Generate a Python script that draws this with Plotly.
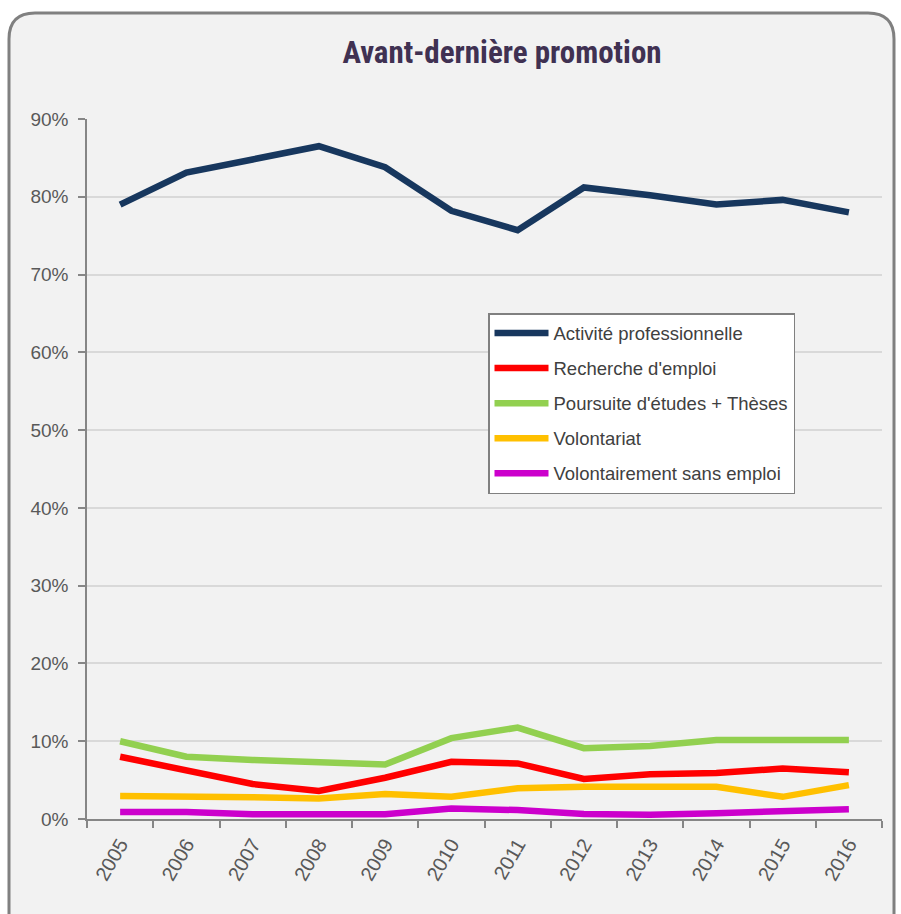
import plotly.graph_objects as go

# Données (en fraction)
annees = ["2005", "2006", "2007", "2008", "2009", "2010",
          "2011", "2012", "2013", "2014", "2015", "2016"]

activite_pro = [0.790, 0.831, 0.848, 0.865, 0.838, 0.782,
                0.757, 0.812, 0.802, 0.790, 0.796, 0.780]
recherche_emploi = [0.080, 0.062, 0.045, 0.036, 0.053, 0.0735,
                    0.0715, 0.0515, 0.0575, 0.059, 0.065, 0.060]
poursuite_etudes = [0.100, 0.080, 0.076, 0.072, 0.070, 0.104,
                    0.1175, 0.091, 0.094, 0.1015, 0.1015, 0.1015]
volontariat = [0.0295, 0.0295, 0.028, 0.0265, 0.032, 0.0285,
               0.0395, 0.0415, 0.0415, 0.0415, 0.0285, 0.0435]
sans_emploi = [0.009, 0.009, 0.006, 0.0055, 0.006, 0.0135,
               0.0115, 0.0065, 0.0055, 0.0075, 0.010, 0.0125]

series = [
    ("Activité professionnelle", activite_pro, "#17375E"),
    ("Recherche d'emploi", recherche_emploi, "#FF0000"),
    ("Poursuite d'études + Thèses", poursuite_etudes, "#92D050"),
    ("Volontariat", volontariat, "#FFC000"),
    ("Volontairement sans emploi", sans_emploi, "#CC00CC"),
]

fig = go.Figure()

for i, (nom, valeurs, couleur) in enumerate(series):
    fig.add_trace(go.Scatter(
        x=annees, y=valeurs, mode="lines", name=nom,
        legendgroup=f"g{i}",
        line=dict(color=couleur, width=6.5),
    ))

# cadre arrondi autour du graphique (coordonnées "paper")
W, H = 901, 914
ml, mr, mt, mb = 87, 19, 119, 95
pw, ph = W - ml - mr, H - mt - mb


def px(x):
    return (x - ml) / pw


def py(y):
    return (H - mb - y) / ph


r = 26
x0, x1, y0, y1 = 9, 894, 13, 930
chemin = (
    f"M {px(x0)},{py(y1)} L {px(x0)},{py(y0 + r)} "
    f"Q {px(x0)},{py(y0)} {px(x0 + r)},{py(y0)} "
    f"L {px(x1 - r)},{py(y0)} "
    f"Q {px(x1)},{py(y0)} {px(x1)},{py(y0 + r)} "
    f"L {px(x1)},{py(y1)} Z"
)
fig.add_shape(type="path", path=chemin, xref="paper", yref="paper",
              fillcolor="#F2F2F2", line=dict(color="#808080", width=3),
              layer="below")

fig.update_layout(
    width=W, height=H,
    margin=dict(l=ml, r=mr, t=mt, b=mb),
    paper_bgcolor="white",
    plot_bgcolor="rgba(0,0,0,0)",
    font=dict(family="Liberation Sans, Arial, sans-serif", size=18, color="#595959"),
    title=dict(
        text="<b>Avant-dernière promotion</b>",
        x=px(502), xanchor="center", xref="paper",
        y=1 - 52 / H, yanchor="middle",
        font=dict(family="Liberation Sans Narrow, Arial Narrow, Roboto Condensed, Liberation Sans",
                  size=31, color="#403152"),
    ),
    showlegend=True,
    legend=dict(
        x=px(488), y=py(313), xanchor="left", yanchor="top",
        bgcolor="white", bordercolor="#808080", borderwidth=1.5,
        font=dict(size=18.5, color="#404040"),
        traceorder="grouped", tracegroupgap=8,
        itemwidth=54,
    ),
)

fig.update_xaxes(
    type="category", tickson="boundaries", range=[-0.5, 11.5],
    ticks="outside", ticklen=7, tickcolor="#868686", tickwidth=1.5,
    showline=True, linecolor="#868686", linewidth=1.5,
    showgrid=False, tickangle=-60, ticklabelstandoff=4,
    tickfont=dict(size=20, color="#595959"),
)
fig.update_yaxes(
    range=[0, 0.9], dtick=0.1, tickformat=".0%",
    ticks="outside", ticklen=7, tickcolor="#868686", tickwidth=1.5,
    showline=True, linecolor="#868686", linewidth=1.5,
    showgrid=True, gridcolor="#D9D9D9", gridwidth=1.5,
    zeroline=False, ticklabelstandoff=6,
    tickfont=dict(size=19, color="#595959"),
)

fig.write_html("out.html", config={"displayModeBar": False},
               post_script="document.body.style.margin='0';")
